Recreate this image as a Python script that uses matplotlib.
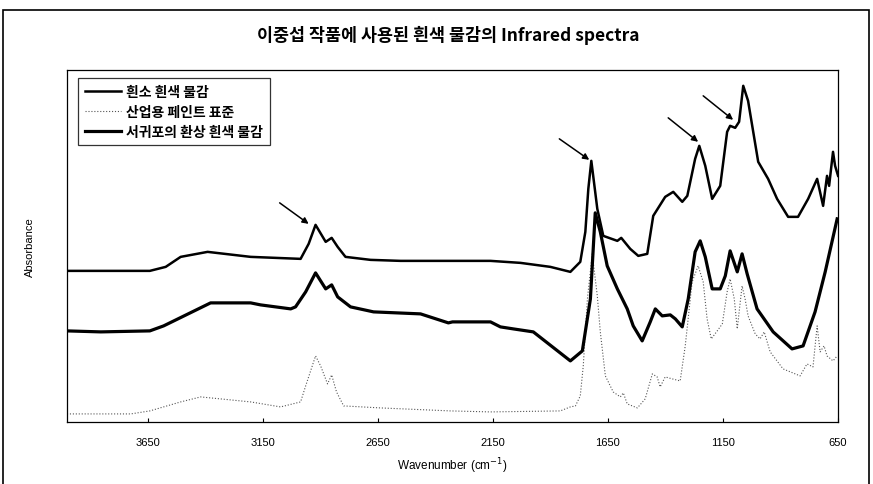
#import Libraries
import numpy as np
import matplotlib
matplotlib.use("Agg")
from matplotlib import pyplot as plt
from matplotlib.patches import Rectangle
##################################################

plt.rcParams['font.family'] = ['Noto Sans CJK KR', 'DejaVu Sans']

#Data (wavenumber in cm-1, absorbance in arbitrary units)
wn_top = [4000, 3640, 3571, 3506, 3389, 3202, 2985, 2950, 2920, 2876, 2850, 2824, 2790,
          2681, 2551, 2160, 2030, 1900, 1813, 1770, 1748, 1735, 1722, 1696, 1670, 1609,
          1592, 1553, 1518, 1479, 1453, 1401, 1366, 1327, 1305, 1271, 1253, 1227, 1197,
          1162, 1132, 1119, 1097, 1080, 1062, 1041, 997, 954, 915, 867, 824, 780, 741,
          715, 698, 689, 672, 663, 650]
abs_top = [1.51, 1.51, 1.55, 1.65, 1.70, 1.65, 1.63, 1.78, 1.97, 1.80, 1.84, 1.75, 1.65,
           1.62, 1.61, 1.61, 1.59, 1.55, 1.50, 1.60, 1.90, 2.33, 2.61, 2.13, 1.86, 1.81,
           1.84, 1.73, 1.66, 1.68, 2.06, 2.25, 2.30, 2.20, 2.26, 2.63, 2.76, 2.56, 2.23,
           2.36, 2.90, 2.96, 2.94, 3.00, 3.36, 3.21, 2.60, 2.43, 2.23, 2.05, 2.05, 2.23, 2.43,
           2.16, 2.46, 2.36, 2.70, 2.56, 2.46]

wn_mid = [4000, 3853, 3640, 3580, 3376, 3202, 3159, 3028, 3007, 2963, 2920, 2876, 2850,
          2824, 2768, 2668, 2464, 2343, 2325, 2160, 2117, 2061, 1974, 1813, 1761, 1726,
          1705, 1683, 1653, 1609, 1566, 1540, 1501, 1466, 1444, 1414, 1379, 1357, 1327,
          1301, 1271, 1249, 1227, 1197, 1162, 1140, 1119, 1088, 1067, 1045, 1002, 932,
          850, 802, 750, 706, 654]
abs_mid = [0.91, 0.90, 0.91, 0.96, 1.19, 1.19, 1.17, 1.13, 1.15, 1.30, 1.49, 1.33, 1.37,
           1.25, 1.15, 1.10, 1.08, 0.99, 1.00, 1.00, 0.95, 0.93, 0.90, 0.61, 0.71, 1.23,
           2.09, 1.90, 1.56, 1.33, 1.13, 0.96, 0.81, 1.00, 1.13, 1.06, 1.07, 1.03, 0.95,
           1.23, 1.70, 1.81, 1.65, 1.33, 1.33, 1.46, 1.71, 1.50, 1.68, 1.48, 1.13, 0.90,
           0.73, 0.76, 1.10, 1.50, 2.03]

wn_std = [4000, 3723, 3640, 3506, 3419, 3202, 3072, 2985, 2963, 2920, 2898, 2868, 2850,
          2829, 2798, 2638, 2334, 2160, 1857, 1813, 1791, 1770, 1757, 1739, 1718, 1696,
          1683, 1661, 1627, 1596, 1583, 1566, 1522, 1488, 1457, 1436, 1423, 1401, 1370,
          1336, 1314, 1284, 1258, 1236, 1219, 1201, 1175, 1153, 1132, 1119, 1101, 1088,
          1075, 1067, 1054, 1041, 1010, 989, 971, 945, 889, 815, 785, 759, 741, 728, 711,
          698, 672, 654]
abs_std = [0.08, 0.08, 0.11, 0.20, 0.25, 0.20, 0.15, 0.20, 0.36, 0.66, 0.56, 0.38, 0.47,
           0.30, 0.16, 0.14, 0.11, 0.10, 0.11, 0.15, 0.16, 0.26, 0.56, 1.23, 1.68, 1.26,
           0.90, 0.46, 0.30, 0.25, 0.29, 0.18, 0.14, 0.23, 0.48, 0.45, 0.35, 0.45, 0.43,
           0.41, 0.76, 1.40, 1.56, 1.40, 1.03, 0.83, 0.91, 0.98, 1.30, 1.43, 1.23, 0.93,
           1.20, 1.36, 1.23, 1.06, 0.88, 0.83, 0.90, 0.70, 0.53, 0.46, 0.58, 0.55, 0.96,
           0.70, 0.76, 0.66, 0.61, 0.66]

series_labels = ['흰소 흰색 물감', '산업용 페인트 표준', '서귀포의 환상 흰색 물감']
xticks = [3650, 3150, 2650, 2150, 1650, 1150, 650]

#arrows: (tail wn, tail abs, head wn, head abs)
arrows = [(3076, 2.19, 2950, 1.98),
          (1861, 2.83, 1731, 2.62),
          (1388, 3.04, 1258, 2.80),
          (1236, 3.26, 1106, 3.02)]
##################################################


#organize the plot
fig = plt.figure(figsize=(8.73, 4.85), dpi=100)
ax = fig.add_axes([0.0767, 0.128, 0.8833, 0.726])

l1, = ax.plot(wn_top, abs_top, color='black', lw=1.8)
l2, = ax.plot(wn_std, abs_std, color='#555555', lw=0.8, linestyle=':')
l3, = ax.plot(wn_mid, abs_mid, color='black', lw=2.3)

for x0, y0, x1, y1 in arrows:
    ax.annotate('', xy=(x1, y1), xytext=(x0, y0),
                arrowprops=dict(arrowstyle='-|>', color='black', lw=1.1,
                                mutation_scale=9, shrinkA=0, shrinkB=0))

ax.set_xlim(4000, 650)
ax.set_ylim(0, 3.52)
ax.set_xticks(xticks)
ax.set_xticklabels([str(t) for t in xticks], family='Liberation Sans', fontsize=8)
ax.tick_params(axis='x', direction='in', length=3, width=0.8, pad=11)
ax.set_yticks([])
for s in ax.spines.values():
    s.set_linewidth(0.9)

ax.set_xlabel('Wavenumber (cm$^{-1}$)', family='Liberation Sans', fontsize=8.5, labelpad=6)
ax.set_ylabel('Absorbance', family='Liberation Sans', fontsize=8, labelpad=23)

leg = ax.legend([l1, l2, l3], series_labels, loc='upper left',
                bbox_to_anchor=(0.014, 0.977), borderaxespad=0,
                prop={'family': ['Noto Sans CJK KR'], 'size': 10, 'weight': 'bold'},
                frameon=True, fancybox=False, handlelength=2.6, handletextpad=0.4,
                labelspacing=0.42, borderpad=0.5)
leg.get_frame().set_edgecolor('black')
leg.get_frame().set_linewidth(0.9)

fig.text(0.514, 0.927, '이중섭 작품에 사용된 흰색 물감의 Infrared spectra',
         ha='center', va='center', fontsize=12.5, fontweight='bold')

#outer frame
fig.patches.append(Rectangle((3 / 873, -0.02), 866 / 873, (485 - 11) / 485 + 0.02,
                             transform=fig.transFigure, fill=False,
                             edgecolor='black', lw=1.2))

plt.savefig('out.png', dpi=100)
##################################################
